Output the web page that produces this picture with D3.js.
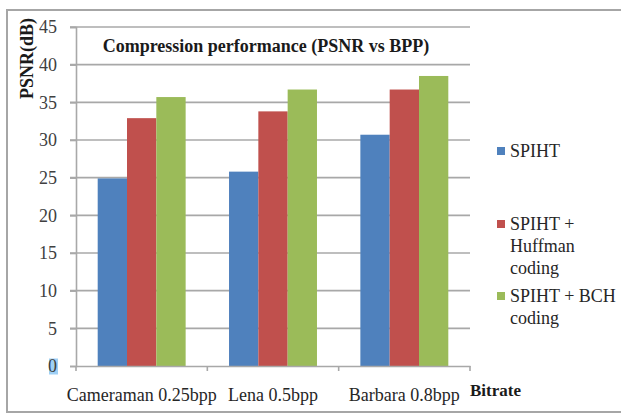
<!DOCTYPE html>
<html>
<head>
<meta charset="utf-8">
<script src="https://cdn.jsdelivr.net/npm/d3@7"></script>
<style>
  body { margin: 0; background: #fff; }
  svg text { font-family: 'Liberation Serif', 'Times New Roman', 'DejaVu Serif', serif; }
</style>
</head>
<body>
<div id="chart"></div>
<script>
const width = 621;
const height = 415;

// chart data
const categories = ['Cameraman 0.25bpp', 'Lena 0.5bpp', 'Barbara 0.8bpp'];
const seriesNames = ['SPIHT', 'SPIHT + Huffman coding', 'SPIHT + BCH coding'];
const spiht = [24.9, 25.8, 30.7];
const spihtHuffman = [32.9, 33.8, 36.7];
const spihtBch = [35.7, 36.7, 38.5];
const yTicks = [0, 5, 10, 15, 20, 25, 30, 35, 40, 45];

const colors = ['#4F81BD', '#C0504D', '#9BBB59'];
const values = [spiht, spihtHuffman, spihtBch];

// plot area
const plot = { left: 76, right: 470, top: 27, bottom: 366 };

const svg = d3.select('#chart')
  .append('svg')
  .attr('width', width)
  .attr('height', height);

// outer frame (cut off at the right edge)
svg.append('rect')
  .attr('x', 7).attr('y', 10)
  .attr('width', 640).attr('height', 402)
  .attr('fill', 'none')
  .attr('stroke', '#a6a6a6')
  .attr('stroke-width', 2);

const x0 = d3.scaleBand()
  .domain(categories)
  .range([plot.left, plot.right]);

const x1 = d3.scaleBand()
  .domain(d3.range(seriesNames.length))
  .range([0, x0.bandwidth()])
  .paddingOuter(0.74);

const y = d3.scaleLinear()
  .domain([0, 45])
  .range([plot.bottom, plot.top]);

// gridlines
svg.append('g')
  .selectAll('line')
  .data(yTicks.filter(d => d > 0))
  .join('line')
  .attr('x1', plot.left - 6)
  .attr('x2', plot.right)
  .attr('y1', d => y(d))
  .attr('y2', d => y(d))
  .attr('stroke', '#a8a8a8')
  .attr('stroke-width', 1.6);

// bars
const groups = svg.append('g')
  .selectAll('g')
  .data(categories)
  .join('g')
  .attr('transform', d => `translate(${x0(d)},0)`);

groups.selectAll('rect')
  .data((d, i) => values.map((s, k) => ({ k, v: s[i] })))
  .join('rect')
  .attr('x', d => x1(d.k))
  .attr('width', x1.bandwidth())
  .attr('y', d => y(d.v))
  .attr('height', d => y(0) - y(d.v))
  .attr('fill', d => colors[d.k]);

// y axis
const yAxis = svg.append('g')
  .attr('transform', `translate(${plot.left},0)`)
  .call(d3.axisLeft(y).tickValues(yTicks).tickSize(6).tickPadding(13));
yAxis.select('.domain').attr('stroke', '#a8a8a8').attr('stroke-width', 1.6);
yAxis.selectAll('.tick line').attr('stroke', '#a8a8a8').attr('stroke-width', 1.6);
yAxis.selectAll('.tick text')
  .attr('font-size', 18)
  .attr('fill', '#404040');

// blue selection highlight behind the "0"
const zeroTick = yAxis.selectAll('.tick').filter(d => d === 0);
zeroTick.insert('rect', 'text')
  .attr('x', -27).attr('y', -8)
  .attr('width', 9).attr('height', 16)
  .attr('fill', '#9fd0f5');

// x axis
const xAxis = svg.append('g')
  .attr('transform', `translate(0,${plot.bottom})`)
  .call(d3.axisBottom(x0).tickSize(0).tickFormat(''));
xAxis.select('.domain').attr('stroke', '#a8a8a8').attr('stroke-width', 1.6);

const xTickPos = [plot.left].concat(categories.map(c => x0(c) + x0.bandwidth()));
svg.append('g')
  .selectAll('line')
  .data(xTickPos)
  .join('line')
  .attr('x1', d => d).attr('x2', d => d)
  .attr('y1', plot.bottom).attr('y2', plot.bottom + 5)
  .attr('stroke', '#a8a8a8')
  .attr('stroke-width', 1.6);

svg.append('g')
  .selectAll('text')
  .data(categories)
  .join('text')
  .attr('x', d => x0(d) + x0.bandwidth() / 2)
  .attr('y', 401)
  .attr('text-anchor', 'middle')
  .attr('font-size', 18)
  .attr('fill', '#262626')
  .text(d => d);

// title
svg.append('text')
  .attr('x', 266)
  .attr('y', 52)
  .attr('text-anchor', 'middle')
  .attr('font-size', 18)
  .attr('font-weight', 'bold')
  .attr('fill', '#1a1a1a')
  .text('Compression performance (PSNR vs BPP)');

// axis titles
svg.append('text')
  .attr('transform', 'translate(33,18) rotate(-90)')
  .attr('text-anchor', 'end')
  .attr('font-size', 18)
  .attr('font-weight', 'bold')
  .attr('fill', '#1a1a1a')
  .text('PSNR(dB)');

svg.append('text')
  .attr('x', 470)
  .attr('y', 396)
  .attr('font-size', 17)
  .attr('font-weight', 'bold')
  .attr('fill', '#1a1a1a')
  .text('Bitrate');

// legend
const legendLines = [['SPIHT'], ['SPIHT +', 'Huffman', 'coding'], ['SPIHT + BCH', 'coding']];
const legendY = [151, 224, 296];
const legend = svg.append('g')
  .selectAll('g')
  .data(seriesNames)
  .join('g')
  .attr('transform', (d, i) => `translate(497,${legendY[i]})`);

legend.append('rect')
  .attr('x', 0).attr('y', -4)
  .attr('width', 8).attr('height', 8)
  .attr('fill', (d, i) => colors[i]);

legend.append('text')
  .attr('y', 6)
  .attr('font-size', 18)
  .attr('fill', '#262626')
  .selectAll('tspan')
  .data((d, i) => legendLines[i])
  .join('tspan')
  .attr('x', 13)
  .attr('dy', (d, j) => j === 0 ? 0 : 22)
  .text(d => d);
</script>
</body>
</html>
